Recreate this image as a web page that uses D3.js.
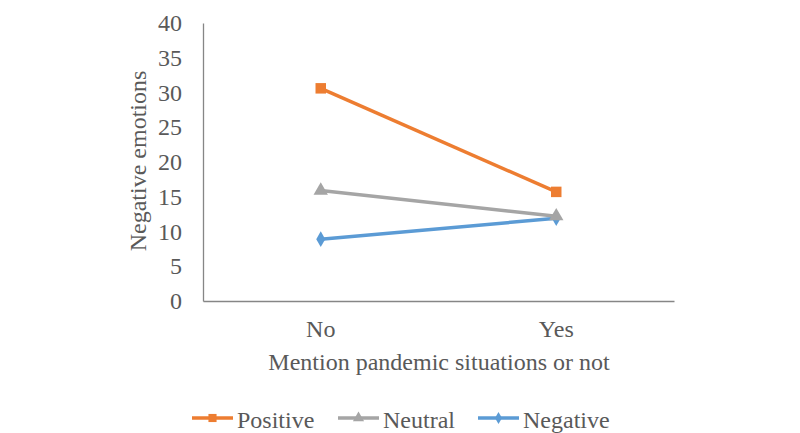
<!DOCTYPE html>
<html>
<head>
<meta charset="utf-8">
<script src="https://cdn.jsdelivr.net/npm/d3@7"></script>
<style>
  body { margin: 0; background: #fff; }
</style>
</head>
<body>
<div id="canvas"></div>
<script>
// Chart data
var categories = ["No", "Yes"];
var seriesNames = ["Positive", "Neutral", "Negative"];
var positiveValues = [30.6, 15.7];
var neutralValues = [15.9, 12.2];
var negativeValues = [8.9, 11.9];
var yTicks = [0, 5, 10, 15, 20, 25, 30, 35, 40];

var w = 800, h = 433;
var margin = {top: 23, right: 126, bottom: 132, left: 203};
var font = "Liberation Serif";
var textColor = "#595959";

var svg = d3.select("#canvas")
    .append("svg")
    .attr("width", w)
    .attr("height", h);

var x_scale = d3.scaleBand()
    .domain(categories)
    .range([margin.left, w - margin.right]);

var y_scale = d3.scaleLinear()
    .domain([0, 40])
    .range([h - margin.bottom, margin.top]);

// Y axis
var yAxis = svg.append("g")
    .attr("transform", `translate(${margin.left},0)`)
    .call(d3.axisLeft(y_scale).tickValues(yTicks).tickSize(0).tickPadding(21));
yAxis.select(".domain").attr("stroke", "#868686").attr("stroke-width", 1.3);
yAxis.selectAll("text")
    .attr("fill", textColor)
    .style("font-size", "24px")
    .style("font-family", font);

// X axis
var xAxis = svg.append("g")
    .attr("transform", `translate(0,${h - margin.bottom})`)
    .call(d3.axisBottom(x_scale).tickSize(0).tickPadding(19));
xAxis.select(".domain").attr("stroke", "#868686").attr("stroke-width", 1.3);
xAxis.selectAll("text")
    .attr("fill", textColor)
    .style("font-size", "24px")
    .style("font-family", font);

// Axis titles
svg.append("text")
    .attr("text-anchor", "middle")
    .attr("x", 439)
    .attr("y", 370)
    .attr("fill", textColor)
    .style("font-size", "24px")
    .style("font-family", font)
    .text("Mention pandemic situations or not");

svg.append("text")
    .attr("text-anchor", "middle")
    .attr("transform", "rotate(-90)")
    .attr("x", -161)
    .attr("y", 146)
    .attr("fill", textColor)
    .style("font-size", "24px")
    .style("font-family", font)
    .text("Negative emotions");

var series = [
    {name: seriesNames[0], values: positiveValues, color: "#ED7D31", symbol: d3.symbolSquare, size: 110},
    {name: seriesNames[1], values: neutralValues, color: "#A5A5A5", symbol: d3.symbolTriangle, size: 90},
    {name: seriesNames[2], values: negativeValues, color: "#5B9BD5", symbol: d3.symbolDiamond, size: 70}
];

var line = d3.line()
    .x((d, i) => x_scale(categories[i]) + x_scale.bandwidth() / 2)
    .y(d => y_scale(d));

// draw in reverse so orange sits on top
series.slice().reverse().forEach(s => {
    svg.append("path")
        .datum(s.values)
        .attr("d", line)
        .attr("fill", "none")
        .attr("stroke", s.color)
        .attr("stroke-width", 3.5);
    svg.selectAll(null)
        .data(s.values)
        .join("path")
        .attr("d", d3.symbol().type(s.symbol).size(s.size))
        .attr("transform", (d, i) => `translate(${x_scale(categories[i]) + x_scale.bandwidth() / 2},${y_scale(d)})`)
        .attr("fill", s.color);
});

// Legend
var legendX = [192, 338, 478];
var legend = svg.selectAll(".legend")
    .data(series)
    .join("g")
    .attr("class", "legend")
    .attr("transform", (d, i) => `translate(${legendX[i]},418)`);

legend.append("line")
    .attr("x1", 0).attr("x2", 41)
    .attr("stroke", d => d.color)
    .attr("stroke-width", 3.5);
legend.append("path")
    .attr("d", d => d3.symbol().type(d.symbol).size(d.size * 0.6)())
    .attr("transform", "translate(20.5,0)")
    .attr("fill", d => d.color);
legend.append("text")
    .attr("x", 45)
    .attr("y", 10)
    .attr("fill", textColor)
    .style("font-size", "24px")
    .style("font-family", font)
    .text(d => d.name);
</script>
</body>
</html>
